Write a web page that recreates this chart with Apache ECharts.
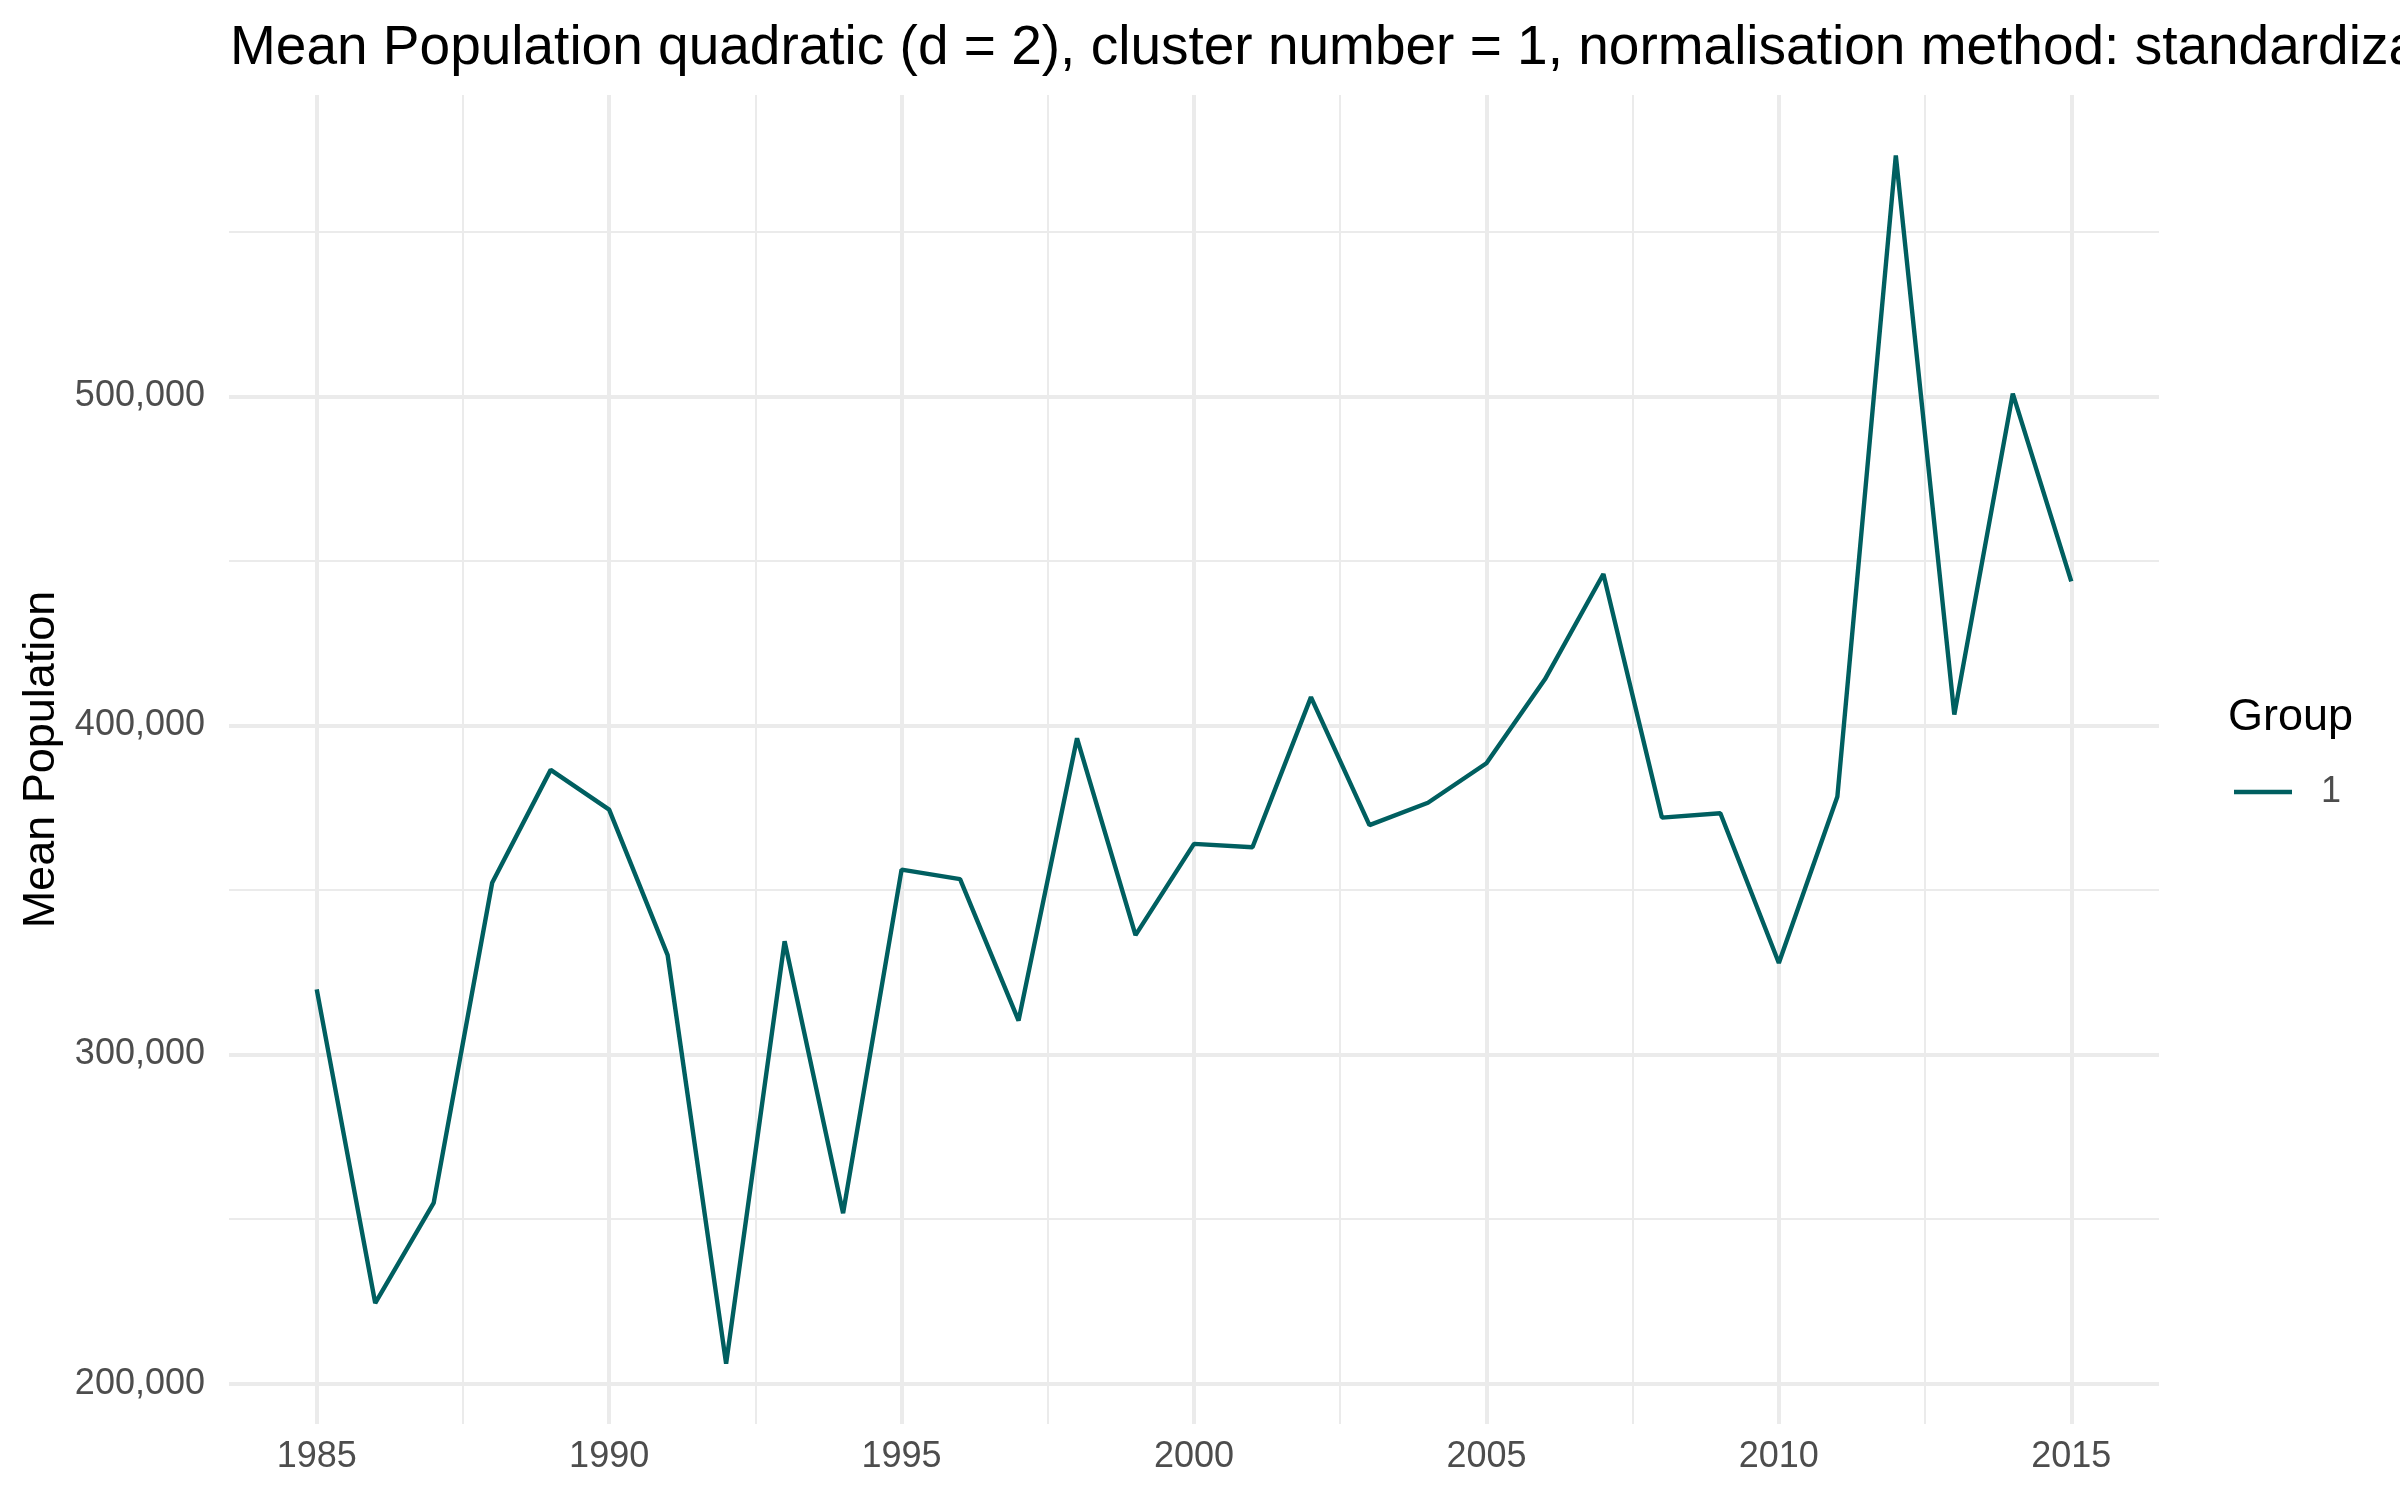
<!DOCTYPE html>
<html>
<head>
<meta charset="utf-8">
<title>Mean Population</title>
<script src="https://cdn.jsdelivr.net/npm/echarts@6/dist/echarts.min.js"></script>
<style>
  html, body { margin: 0; padding: 0; background: #fff; }
  #chart { width: 2400px; height: 1500px; }
</style>
</head>
<body>
<div id="chart"></div>
<script>
// values
const years = [1985, 1986, 1987, 1988, 1989, 1990, 1991, 1992, 1993, 1994,
  1995, 1996, 1997, 1998, 1999, 2000, 2001, 2002, 2003, 2004,
  2005, 2006, 2007, 2008, 2009, 2010, 2011, 2012, 2013, 2014, 2015];
const meanPopulation = [319800, 224500, 254900, 352200, 386500, 374400, 330200, 206100, 334400, 251800,
  356200, 353300, 310300, 396100, 336300, 364000, 363000, 408600, 369700, 376500,
  388500, 414000, 446000, 372000, 373300, 327800, 378300, 573200, 403300, 500800, 443800];
const groupName = '1';

// tick labels / gridlines
const yearTicks = [1985, 1990, 1995, 2000, 2005, 2010, 2015];
const yearMinorTicks = [1987.5, 1992.5, 1997.5, 2002.5, 2007.5, 2012.5];
const popTicks = [200000, 300000, 400000, 500000];
const popMinorTicks = [250000, 350000, 450000, 550000];

// axis ranges (ggplot style 5% expansion)
const xRange = [1983.5, 2016.5];
const yRange = [187740, 591560];

const FONT = '"Liberation Sans", Arial, Helvetica, sans-serif';
const gridColor = '#EBEBEB';
const lineColor = '#005F60';

const chart = echarts.init(document.getElementById('chart'));

const seriesData = years.map((y, i) => [y, meanPopulation[i]]);

function hiddenAxis(extra) {
  return Object.assign({
    type: 'value',
    axisLine: { show: false },
    axisTick: { show: false },
    axisLabel: { show: false }
  }, extra);
}

const option = {
  animation: false,
  backgroundColor: '#fff',
  textStyle: { fontFamily: FONT },
  title: [
    {
      text: 'Mean Population quadratic (d = 2), cluster number = 1, normalisation method: standardization',
      left: 225,
      top: 16,
      textStyle: { fontSize: 55, fontWeight: 'normal', color: '#000', fontFamily: FONT }
    },
    {
      text: 'Group',
      left: 2223,
      top: 690,
      textStyle: { fontSize: 45, fontWeight: 'normal', color: '#000', fontFamily: FONT }
    }
  ],
  legend: {
    data: [groupName],
    left: 2234,
    top: 774,
    padding: 0,
    icon: 'rect',
    itemWidth: 58,
    itemHeight: 4.4,
    textStyle: { fontSize: 36, color: '#4D4D4D', fontFamily: FONT, padding: [0, 0, 0, 24] }
  },
  grid: {
    left: 229,
    top: 95,
    width: 1930,
    height: 1329,
    containLabel: false,
    outerBoundsMode: 'none'
  },
  xAxis: [
    {
      type: 'value',
      min: xRange[0],
      max: xRange[1],
      axisLine: { show: false },
      axisTick: { show: false, customValues: yearTicks },
      axisLabel: {
        customValues: yearTicks,
        fontSize: 36,
        color: '#4D4D4D',
        fontFamily: FONT,
        margin: 15,
        formatter: v => String(v)
      },
      splitLine: { show: true, lineStyle: { color: gridColor, width: 4 } }
    },
    hiddenAxis({
      min: xRange[0],
      max: xRange[1],
      axisTick: { show: false, customValues: yearMinorTicks },
      splitLine: { show: true, lineStyle: { color: gridColor, width: 2 } }
    })
  ],
  yAxis: [
    {
      type: 'value',
      min: yRange[0],
      max: yRange[1],
      name: 'Mean Population',
      nameLocation: 'middle',
      nameGap: 162,
      nameTextStyle: { fontSize: 45, color: '#000', fontFamily: FONT },
      axisLine: { show: false },
      axisTick: { show: false, customValues: popTicks },
      axisLabel: {
        customValues: popTicks,
        fontSize: 36,
        color: '#4D4D4D',
        fontFamily: FONT,
        margin: 24,
        formatter: v => v.toLocaleString('en-US')
      },
      splitLine: { show: true, lineStyle: { color: gridColor, width: 4 } }
    },
    hiddenAxis({
      min: yRange[0],
      max: yRange[1],
      axisTick: { show: false, customValues: popMinorTicks },
      splitLine: { show: true, lineStyle: { color: gridColor, width: 2 } }
    })
  ],
  series: [
    {
      name: groupName,
      type: 'line',
      xAxisIndex: 0,
      yAxisIndex: 0,
      data: seriesData,
      showSymbol: false,
      symbol: 'none',
      color: lineColor,
      lineStyle: { color: lineColor, width: 4.4 }
    }
  ]
};

chart.setOption(option);
</script>
</body>
</html>
